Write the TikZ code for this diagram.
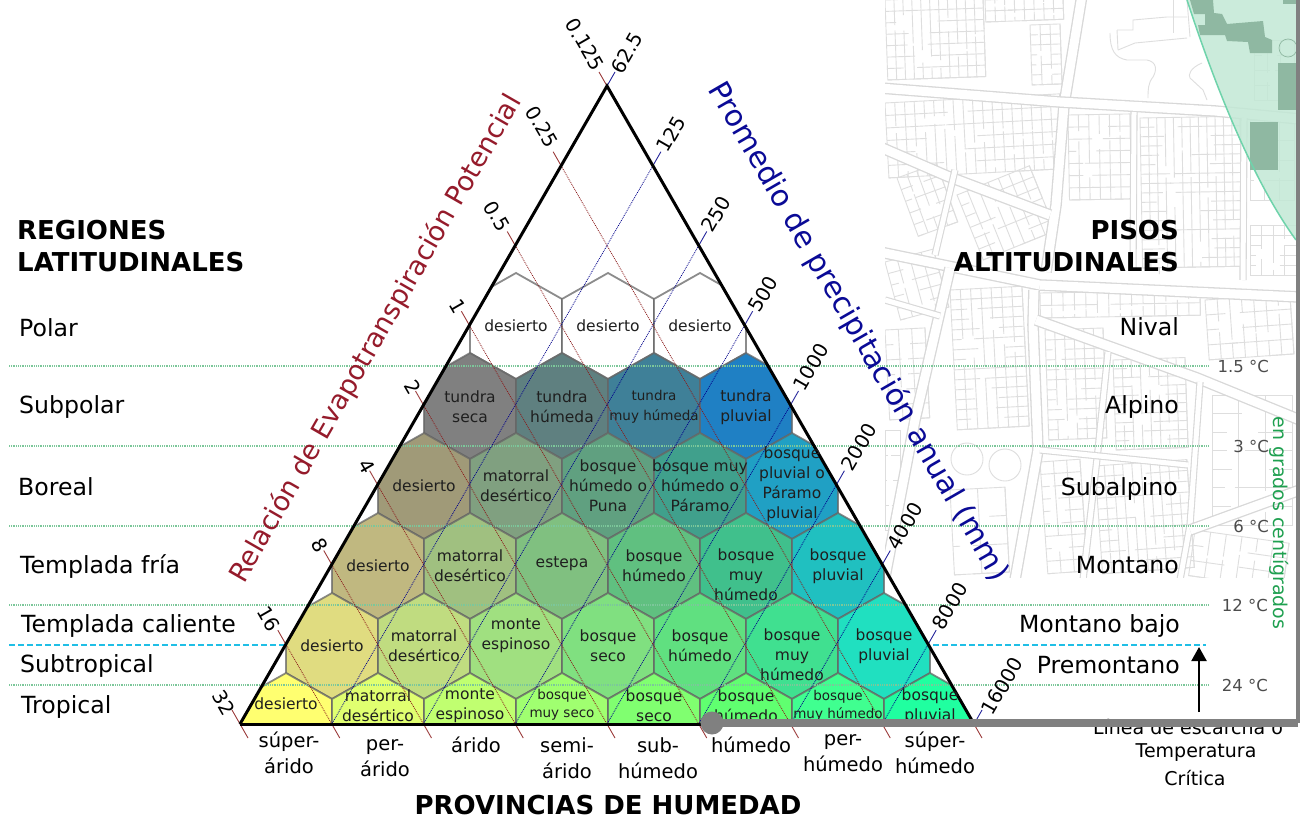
\documentclass[tikz,border=0pt]{standalone}
\usepackage{fontspec}
\setmainfont{DejaVu Sans}
\usetikzlibrary{arrows.meta}
\definecolor{framegrey}{HTML}{808080}
\definecolor{mapline}{HTML}{DEDEDE}
\definecolor{roadline}{HTML}{D8D8D8}
\definecolor{circlefill}{HTML}{C2E8D5}
\definecolor{circleedge}{HTML}{6FD3AB}
\definecolor{patch}{HTML}{8FB8A2}
\definecolor{reddark}{HTML}{8B1A1A}
\definecolor{redtitle}{HTML}{951B2B}
\definecolor{bluedark}{HTML}{00008B}
\definecolor{bluetitle}{HTML}{0A0A96}
\definecolor{greenline}{HTML}{7CC79A}
\definecolor{greentext}{HTML}{1FA050}
\definecolor{cyanline}{HTML}{20BFE6}
\tikzset{
 x=1pt,y=-1pt,
 hexcell/.style={draw=black!60,draw opacity=.75,line width=1.8pt,line join=miter},
 hextext/.style={font=\fontsize{15.5}{20}\selectfont,align=center,inner sep=0pt,text=black!88},
 hexsmall/.style={font=\fontsize{13.5}{18}\selectfont,align=center,inner sep=0pt,text=black!88},
 rowlabel/.style={font=\fontsize{23.6}{27}\selectfont,anchor=base west,inner sep=0pt,text=black},
 altlabel/.style={font=\fontsize{23.6}{27}\selectfont,anchor=base east,inner sep=0pt,text=black},
 headlabel/.style={font=\fontsize{26}{33}\bfseries\selectfont,inner sep=0pt},
 templabel/.style={font=\fontsize{16.5}{20}\selectfont,anchor=east,inner sep=0pt,text=black!70},
 ticklabel/.style={font=\fontsize{19.7}{22}\selectfont,inner sep=0pt,text=black},
 provlabel/.style={font=\fontsize{19.5}{26}\selectfont,align=center,inner sep=0pt,text=black},
 critlabel/.style={font=\fontsize{19}{25}\selectfont,inner sep=0pt,text=black},
 reddot/.style={draw=reddark,line width=.8pt,dash pattern=on .9pt off 1pt},
 bluedot/.style={draw=bluedark,line width=.8pt,dash pattern=on .9pt off 1pt},
 redtick/.style={draw=reddark!85,line width=.9pt},
 bluetick/.style={draw=bluedark!85,line width=.9pt},
 greendot/.style={draw=greenline,line width=1.1pt,dash pattern=on 1pt off .8pt},
 cyandash/.style={draw=cyanline,line width=1.8pt,dash pattern=on 6pt off 3pt},
 road/.style={draw=roadline,double=white,double distance=9pt,line width=1.3pt,line join=round},
 lane/.style={draw=roadline,double=white,double distance=5pt,line width=1.1pt,line join=round},
 parcel/.style={draw=mapline,line width=.9pt},
}
% mapblock: x y w h rotation nx ny
\newcommand{\mapblock}[7]{%
 \begin{scope}[shift={(#1,#2)},rotate=#5]
  \draw[parcel] (0,0) rectangle (#3,#4);
  \pgfmathsetmacro{\dxx}{#3/#6}
  \pgfmathsetmacro{\dyy}{#4/#7}
  \foreach \i in {1,...,#6}{%
    \pgfmathsetmacro{\px}{\i*\dxx}
    \pgfmathsetmacro{\py}{(0.15+0.7*rnd)*#4}
    \draw[parcel] (\px,0) -- (\px,\py);
    \pgfmathsetmacro{\pz}{\py+0.2*#4*rnd}
    \draw[parcel] (\px,\pz) -- (\px,#4);
  }
  \foreach \j in {1,...,#7}{%
    \pgfmathsetmacro{\py}{\j*\dyy}
    \pgfmathsetmacro{\px}{(0.25+0.5*rnd)*#3}
    \draw[parcel] (\px,\py) -- (#3,\py);
    \pgfmathsetmacro{\pz}{(0.1+0.3*rnd)*#3}
    \draw[parcel] (0,\py) -- (\pz,\py);
  }
 \end{scope}}
\newcommand{\hexat}[3]{% x y colour
 \fill[#3] (#1,#2-53) -- (#1+46,#2-27) -- (#1+46,#2+27) -- (#1,#2+53) -- (#1-46,#2+27) -- (#1-46,#2-27) -- cycle;
 \draw[hexcell] (#1,#2-53) -- (#1+46,#2-27) -- (#1+46,#2+27) -- (#1,#2+53) -- (#1-46,#2+27) -- (#1-46,#2-27) -- cycle;}
\begin{document}
\begin{tikzpicture}
\useasboundingbox (0,0) rectangle (1300,819);
\fill[white] (0,0) rectangle (1300,819);
% ---------- background map ----------
\begin{scope}
\clip (885,0) rectangle (1296,577);
\pgfmathsetseed{42}
% parcels
\mapblock{885}{0}{98}{80}{2}{11}{7}
\mapblock{985}{0}{78}{22}{2}{8}{2}
\mapblock{1030}{25}{30}{60}{2}{3}{6}
\mapblock{1254}{40}{40}{60}{0}{3}{4}
\mapblock{885}{103}{175}{75}{3}{18}{6}
\mapblock{1068}{115}{62}{85}{1}{6}{7}
\mapblock{1140}{118}{100}{150}{1}{12}{16}
\mapblock{1250}{225}{46}{50}{0}{4}{5}
\mapblock{1250}{120}{44}{80}{0}{3}{4}
\mapblock{897}{178}{42}{62}{20}{4}{5}
\mapblock{957}{195}{78}{70}{22}{7}{6}
\mapblock{885}{262}{50}{60}{15}{4}{5}
\mapblock{1045}{330}{58}{110}{2}{6}{11}
\mapblock{1113}{360}{72}{90}{2}{8}{10}
\mapblock{950}{290}{72}{140}{3}{7}{14}
\mapblock{1040}{462}{40}{112}{4}{3}{9}
\mapblock{1095}{466}{92}{108}{4}{10}{10}
\mapblock{1040}{293}{160}{25}{1}{14}{2}
\mapblock{1212}{395}{80}{130}{0}{3}{7}
\mapblock{1195}{530}{95}{46}{-8}{6}{3}
\mapblock{1205}{300}{85}{60}{4}{7}{4}
\mapblock{885}{330}{40}{90}{3}{3}{6}
\mapblock{950}{490}{55}{85}{3}{2}{3}
\mapblock{885}{430}{15}{100}{0}{1}{4}
% campus outlines
\draw[parcel] (1117,30) -- (1133,30) -- (1133,20) -- (1167,17) -- (1187,17);
\draw[parcel] (1118,50) -- (1135,43) -- (1187,38);
\draw[parcel] (1117,30) -- (1118,50);
\draw[parcel] (1173,0) -- (1173,33);
\draw[parcel] (1187,0) -- (1190,37);
\draw[parcel] (1110,33) .. controls (1110,50) and (1115,58) .. (1127,60) -- (1147,60) .. controls (1157,62) and (1157,70) .. (1153,77) .. controls (1148,83) and (1148,90) .. (1148,98);
\draw[parcel] (1202,63) .. controls (1190,68) and (1188,75) .. (1190,78) -- (1203,90) -- (1207,100);
% streets
\draw[road] (1082,-5) -- (1064,105) -- (1056,205) -- (1046,272);
\draw[road] (880,88) -- (1060,102) -- (1215,111) -- (1300,119);
\draw[road] (880,147) -- (947,176) -- (1050,215);
\draw[lane] (1134,112) -- (1133,270);
\draw[lane] (1244,118) -- (1243,280);
\draw[road] (880,252) -- (1040,285);
\draw[road] (1040,285) -- (1300,297);
\draw[road] (950,268) -- (915,420) -- (885,577);
\draw[road] (1034,290) -- (1033,325) -- (1038,450) -- (1015,580);
\draw[road] (1036,320) -- (1197,378) -- (1300,420);
\draw[lane] (1108,352) -- (1098,450) -- (1083,580);
\draw[lane] (1200,382) -- (1190,525) -- (1180,580);
\draw[lane] (1040,450) -- (1188,465);
\draw[road] (1190,530) -- (1300,490);
\draw[lane] (955,170) -- (935,255);
\draw[lane] (885,300) -- (940,316);
\draw[parcel] (967,459) circle (16);
\draw[parcel] (1005,465) circle (16);
% green circle
\fill[circlefill,fill opacity=.85] (1187,0) .. controls (1205,55) and (1245,170) .. (1296,240) -- (1296,0) -- cycle;
\fill[patch] (1190,0) -- (1213,0) -- (1214,13) -- (1222,14) -- (1227,24) -- (1263,21) -- (1265,37) -- (1272,40) -- (1272,53) -- (1250,53) -- (1248,42) -- (1227,41) -- (1225,35) -- (1200,35) -- (1198,25) -- (1205,25) -- (1205,14) -- (1194,14) -- cycle;
\fill[patch] (1250,122) rectangle (1278,170);
\fill[patch] (1278,63) rectangle (1296,110);
\fill[patch] (1283,0) rectangle (1296,4);
\draw[patch,line width=.7pt] (1288,48) circle (9);
\draw[circleedge,line width=1.5pt] (1187,0) .. controls (1205,55) and (1245,170) .. (1296,240);
\end{scope}
% ---------- hexagons ----------
\coordinate (apex) at (607,86);
\coordinate (corL) at (240,724);
\coordinate (corR) at (974,724);
\begin{scope}
\clip (apex) -- (corL) -- (corR) -- cycle;
\foreach \x in {516,608,700} {\hexat{\x}{326}{white}}
\foreach \x/\c in {470/808080,562/5F8080,654/3F8098,746/1F80C4} {\definecolor{hc}{HTML}{\c}\hexat{\x}{406}{hc}}
\foreach \x/\c in {424/A09A78,516/80A080,608/60A080,700/40A08C,792/20A0C4} {\definecolor{hc}{HTML}{\c}\hexat{\x}{486}{hc}}
\foreach \x/\c in {378/C0B880,470/A0C080,562/80C080,654/60C080,746/40C08C,838/20C0C0} {\definecolor{hc}{HTML}{\c}\hexat{\x}{566}{hc}}
\foreach \x/\c in {332/E0DC80,424/C0DC80,516/A0E080,608/80E080,700/60E080,792/40E090,884/20E0C0} {\definecolor{hc}{HTML}{\c}\hexat{\x}{646}{hc}}
\foreach \x/\c in {286/FFFF70,378/E0FF70,470/C0FF70,562/A0FF70,654/80FF70,746/60FF70,838/40FF90,930/20FFA0} {\definecolor{hc}{HTML}{\c}\hexat{\x}{726}{hc}}
\end{scope}
% ---------- horizontal lines ----------
\foreach \n/\y in {a/366,b/446,c/526,d/605,e/685}{
 \coordinate (gl\n) at (9,\y);
 \coordinate (gr\n) at (1208,\y);
 \draw[greendot] (gl\n) -- (gr\n);
}
\coordinate (cyl) at (9,645); \coordinate (cym) at (286,645);
\coordinate (cyn) at (933,645); \coordinate (cyr) at (1206,645);
\draw[cyandash] (cyl) -- (cym);
\draw[cyandash] (cyn) -- (cyr);
% ---------- scale lines ----------
\foreach \k in {0,...,8}{
 \pgfmathsetmacro{\lx}{240+45.875*\k}
 \pgfmathsetmacro{\rx}{974-45.875*\k}
 \pgfmathsetmacro{\yy}{724-79.75*\k}
 \pgfmathsetmacro{\bx}{240+91.75*\k}
 \pgfmathsetmacro{\cx}{974-91.75*\k}
 \coordinate (L\k) at (\lx,\yy);
 \coordinate (R\k) at (\rx,\yy);
 \coordinate (B\k) at (\bx,724);
 \coordinate (C\k) at (\cx,724);
 \coordinate (Lt\k) at (\lx-8,\yy-14);
 \coordinate (Rt\k) at (\rx+8,\yy-14);
 \coordinate (Bt\k) at (\bx+8,738);
 \draw[reddot] (L\k) -- (B\k);
 \draw[bluedot] (R\k) -- (C\k);
 \draw[redtick] (Lt\k) -- (L\k);
 \draw[bluetick] (Rt\k) -- (R\k);
 \draw[redtick] (B\k) -- (Bt\k);
}
% ---------- triangle ----------
\draw[black,line width=3pt,line join=miter] (corL) -- (apex) -- (corR);
\draw[black,line width=3pt] (corL) -- (corR);
% ---------- hex labels ----------
\node[hextext] (h11) at (516,326) {desierto};
\node[hextext] (h12) at (608,326) {desierto};
\node[hextext] (h13) at (700,326) {desierto};
\node[hextext] (h21) at (470,407) {tundra\\seca};
\node[hextext] (h22) at (562,407) {tundra\\húmeda};
\node[hextext,font=\fontsize{13.5}{20}\selectfont] (h23) at (654,407) {tundra\\muy húmeda};
\node[hextext] (h24) at (746,407) {tundra\\pluvial};
\node[hextext] (h31) at (424,486) {desierto};
\node[hextext] (h32) at (516,486) {matorral\\desértico};
\node[hextext] (h33) at (608,486) {bosque\\húmedo o\\Puna};
\node[hextext] (h34) at (700,486) {bosque muy\\húmedo o\\Páramo};
\node[hextext] (h35) at (792,484) {bosque\\pluvial o\\Páramo\\pluvial};
\node[hextext] (h41) at (378,566) {desierto};
\node[hextext] (h42) at (470,566) {matorral\\desértico};
\node[hextext] (h43) at (562,564) {estepa};
\node[hextext] (h44) at (654,566) {bosque\\húmedo};
\node[hextext] (h45) at (746,575) {bosque\\muy\\húmedo};
\node[hextext] (h46) at (838,566) {bosque\\pluvial};
\node[hextext] (h51) at (332,646) {desierto};
\node[hextext] (h52) at (424,646) {matorral\\desértico};
\node[hextext] (h53) at (516,636) {monte\\espinoso};
\node[hextext] (h54) at (608,646) {bosque\\seco};
\node[hextext] (h55) at (700,646) {bosque\\húmedo};
\node[hextext] (h56) at (792,655) {bosque\\muy\\húmedo};
\node[hextext] (h57) at (884,646) {bosque\\pluvial};
\node[hextext] (h61) at (286,704) {desierto};
\node[hextext] (h62) at (378,706) {matorral\\desértico};
\node[hextext] (h63) at (470,706) {monte\\espinoso};
\node[hexsmall] (h64) at (562,705) {bosque\\muy seco};
\node[hextext] (h65) at (654,706) {bosque\\seco};
\node[hextext] (h66) at (746,706) {bosque\\húmedo};
\node[hexsmall] (h67) at (838,706) {bosque\\muy húmedo};
\node[hextext] (h68) at (930,706) {bosque\\pluvial};
% ---------- tick labels ----------
\foreach \n/\t/\xx/\yy in {a/0.125/585/44,b/0.25/542/127,c/0.5/497/216,d/1/458/306,e/2/413/387,f/4/367/466,g/8/320/545,h/16/269/619,i/32/224/703}{
 \node[ticklabel,rotate=-60] (tl\n) at (\xx,\yy) {\t};
}
\foreach \n/\t/\xx/\yy in {a/62.5/627/53,b/125/671/134,c/250/716/214,d/500/763/294,e/1000/811/367,f/2000/859/447,g/4000/905/526,h/8000/950/606,i/16000/1002/686}{
 \node[ticklabel,rotate=60] (tr\n) at (\xx,\yy) {\t};
}
% ---------- long titles ----------
\node[font=\fontsize{27}{30}\selectfont,text=redtitle,rotate=60.1,inner sep=0pt] (ttr) at (376,339) {Relación de Evapotranspiración Potencial};
\node[font=\fontsize{29.7}{30}\selectfont,text=bluetitle,rotate=-60,inner sep=0pt] (ttb) at (858,332) {Promedio de precipitación anual (mm)};
% ---------- left labels ----------
\node[headlabel,anchor=west] (hl1) at (17,230) {REGIONES};
\node[headlabel,anchor=west] (hl2) at (17,262) {LATITUDINALES};
\node[rowlabel] (rl1) at (19,336) {Polar};
\node[rowlabel] (rl2) at (19,413) {Subpolar};
\node[rowlabel] (rl3) at (18,495) {Boreal};
\node[rowlabel] (rl4) at (20,573) {Templada fría};
\node[rowlabel] (rl5) at (21,632) {Templada caliente};
\node[rowlabel] (rl6) at (20,672) {Subtropical};
\node[rowlabel] (rl7) at (21,713) {Tropical};
% ---------- right labels ----------
\node[headlabel,anchor=east] (hr1) at (1179,230) {PISOS};
\node[headlabel,anchor=east] (hr2) at (1179,262) {ALTITUDINALES};
\node[altlabel] (al1) at (1179,335) {Nival};
\node[altlabel] (al2) at (1179,413) {Alpino};
\node[altlabel] (al3) at (1178,495) {Subalpino};
\node[altlabel] (al4) at (1179,573) {Montano};
\node[altlabel] (al5) at (1180,632) {Montano bajo};
\node[altlabel] (al6) at (1180,673) {Premontano};
\node[templabel] (t1) at (1269,366) {1.5 °C};
\node[templabel] (t2) at (1269,446) {3 °C};
\node[templabel] (t3) at (1269,526) {6 °C};
\node[templabel] (t4) at (1268,605) {12 °C};
\node[templabel] (t5) at (1268,685) {24 °C};
\node[font=\fontsize{19}{22}\selectfont,text=greentext,rotate=-90,inner sep=0pt] (gr) at (1279,523) {en grados centígrados};
% ---------- bottom labels ----------
\node[provlabel] (p1) at (289,753) {súper-\\árido};
\node[provlabel] (p2) at (385,758) {per-\\árido};
\node[provlabel] (p3) at (476,745) {árido};
\node[provlabel] (p4) at (567,758) {semi-\\árido};
\node[provlabel] (p5) at (658,758) {sub-\\húmedo};
\node[provlabel] (p6) at (751,745) {húmedo};
\node[provlabel] (p7) at (843,753) {per-\\húmedo};
\node[provlabel] (p8) at (935,753) {súper-\\húmedo};
\node[headlabel] (pv) at (608,805) {PROVINCIAS DE HUMEDAD};
\node[critlabel] (lin1) at (1188,727) {Línea de escarcha o};
\node[critlabel] (lin2) at (1196,753) {Temperatura};
\node[critlabel] (lin3) at (1195,778) {Crítica};
% ---------- arrow ----------
\coordinate (arB) at (1199,712);
\coordinate (arT) at (1199,647);
\draw[black,line width=2.2pt,-{Triangle[length=14pt,width=15pt]}] (arB) -- (arT);
% ---------- frame ----------
\coordinate (fa) at (712,723);
\coordinate (fb) at (1298,723);
\coordinate (fc) at (1298,0);
\draw[framegrey,line width=7.5pt] (fa) -- (fb);
\draw[framegrey,line width=4pt] (fb) -- (fc);
\fill[framegrey] (fa) circle (11.5);
\end{tikzpicture}
\end{document}
